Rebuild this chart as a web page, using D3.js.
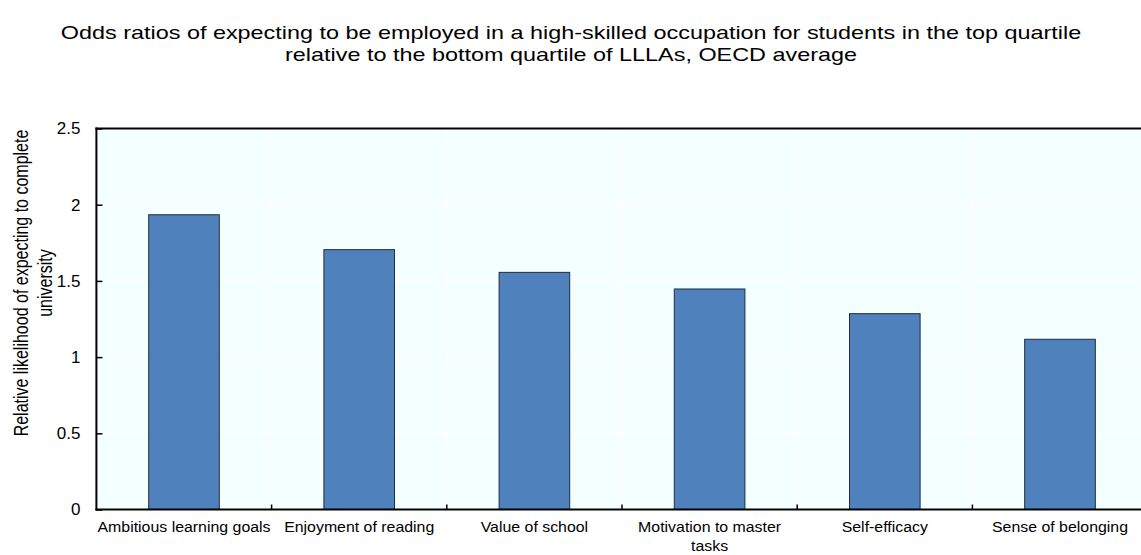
<!DOCTYPE html>
<html>
<head>
<meta charset="utf-8">
<script src="https://cdn.jsdelivr.net/npm/d3@7"></script>
<style>
  body { margin: 0; background: #fff; }
  svg text { font-family: "Liberation Sans", Arial, sans-serif; fill: #000; }
</style>
</head>
<body>
<svg id="chart" width="1141" height="555"></svg>
<script>
// data
const categories = [
  "Ambitious learning goals",
  "Enjoyment of reading",
  "Value of school",
  "Motivation to master tasks",
  "Self-efficacy",
  "Sense of belonging",
];
const tickLines = [
  ["Ambitious learning goals"],
  ["Enjoyment of reading"],
  ["Value of school"],
  ["Motivation to master", "tasks"],
  ["Self-efficacy"],
  ["Sense of belonging"],
];
const oddsRatios = [1.934, 1.705, 1.556, 1.447, 1.285, 1.117];
const yTicks = [0, 0.5, 1, 1.5, 2, 2.5];
const titleLines = [
  "Odds ratios of expecting to be employed in a high-skilled occupation for students in the top quartile",
  "relative to the bottom quartile of LLLAs, OECD average",
];
const yTitleLines = ["Relative likelihood of expecting to complete", "university"];

const svg = d3.select("#chart");
const pl = 96.4, pr = 1147.6, pt = 128.5, pb = 509.5;

/* SCALES */
const x = d3.scaleBand().domain(categories).range([pl, pr])
  .paddingInner(0.597).paddingOuter(0.2985);
const y = d3.scaleLinear().domain([0, 2.5]).range([pb, pt]);

// plot background
svg.append("rect")
  .attr("x", pl).attr("y", pt)
  .attr("width", pr - pl).attr("height", pb - pt)
  .attr("fill", "#f4ffff");

// boundaries between categories
const step = x.step();
const bounds = categories.slice(1).map((c) => x(c) - step * x.paddingInner() / 2);

// grid lines
svg.append("g").selectAll("line")
  .data(yTicks.filter((d) => d > 0 && d < 2.5))
  .join("line")
  .attr("x1", pl).attr("x2", pr)
  .attr("y1", (d) => y(d)).attr("y2", (d) => y(d))
  .attr("stroke", "#fff").attr("stroke-width", 1.2);
svg.append("g").selectAll("line")
  .data(bounds)
  .join("line")
  .attr("x1", (d) => d).attr("x2", (d) => d)
  .attr("y1", pt).attr("y2", pb)
  .attr("stroke", "#fff").attr("stroke-width", 1.2);

// bars
svg.append("g").selectAll("rect")
  .data(oddsRatios)
  .join("rect")
  .attr("x", (d, i) => x(categories[i]))
  .attr("y", (d) => y(d))
  .attr("width", x.bandwidth())
  .attr("height", (d) => y(0) - y(d))
  .attr("fill", "#4f81bd")
  .attr("stroke", "#1f2d3d")
  .attr("stroke-width", 1);

// y axis
const yaxis = d3.axisLeft(y).tickValues(yTicks).tickSize(-6).tickPadding(16)
  .tickFormat((d) => d);
const ygrp = svg.append("g").attr("transform", `translate(${pl},0)`).call(yaxis);
ygrp.select(".domain").remove();
ygrp.selectAll(".tick line").attr("stroke", "#000").attr("stroke-width", 1.5);
ygrp.selectAll("text").attr("font-size", "17px").attr("font-family", "Liberation Sans, Arial, sans-serif");

// x axis labels
const xaxis = d3.axisBottom(x).tickSize(0).tickFormat("");
const xgrp = svg.append("g").attr("transform", `translate(0,${pb})`).call(xaxis);
xgrp.select(".domain").remove();
xgrp.selectAll(".tick").each(function (d, i) {
  const t = d3.select(this).append("text")
    .attr("text-anchor", "middle")
    .attr("font-size", "15px")
    .attr("transform", "scale(1.06,1)");
  tickLines[i].forEach((line, k) => {
    t.append("tspan").attr("x", 0).attr("y", 23 + k * 19).text(line);
  });
});

// x tick marks at category boundaries
svg.append("g").selectAll("line")
  .data(bounds)
  .join("line")
  .attr("x1", (d) => d).attr("x2", (d) => d)
  .attr("y1", pb - 5).attr("y2", pb)
  .attr("stroke", "#000").attr("stroke-width", 1.5);

// axis lines and top border
svg.append("line").attr("x1", pl).attr("x2", pl).attr("y1", pt - 1).attr("y2", pb + 1)
  .attr("stroke", "#000").attr("stroke-width", 2);
svg.append("line").attr("x1", pl - 1).attr("x2", pr).attr("y1", pb).attr("y2", pb)
  .attr("stroke", "#000").attr("stroke-width", 2);
svg.append("line").attr("x1", pl - 1).attr("x2", pr).attr("y1", pt).attr("y2", pt)
  .attr("stroke", "#000").attr("stroke-width", 2);

// title
svg.append("text")
  .attr("transform", "translate(571,0) scale(1.3,1)")
  .attr("text-anchor", "middle")
  .attr("font-size", "18px")
  .selectAll("tspan")
  .data(titleLines)
  .join("tspan")
  .attr("x", 0)
  .attr("y", (d, i) => 39 + i * 22)
  .text((d) => d);

// y title
svg.append("text")
  .attr("transform", "translate(0,283) scale(1.3,1) rotate(-90)")
  .attr("text-anchor", "middle")
  .attr("font-size", "16px")
  .selectAll("tspan")
  .data(yTitleLines)
  .join("tspan")
  .attr("x", 0)
  .attr("y", (d, i) => 21.5 + i * 18.3)
  .text((d) => d);
</script>
</body>
</html>
